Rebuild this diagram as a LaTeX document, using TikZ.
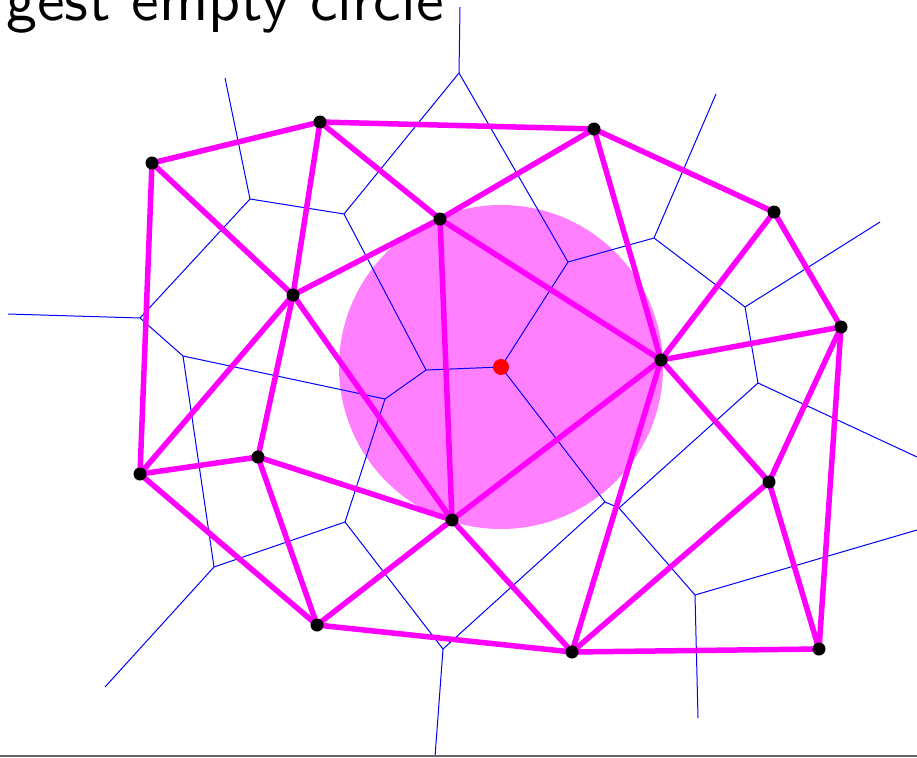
\documentclass[tikz,border=0pt]{standalone}
\usepackage{fontspec}
\usetikzlibrary{backgrounds}
\newfontfamily\titlefont{lmsans10-regular}[Extension=.otf]
\definecolor{delaunay}{RGB}{255,0,255}
\definecolor{voronoi}{RGB}{0,0,255}
\definecolor{centre}{RGB}{255,0,0}
\newlength{\SiteSize}
\newlength{\CenterSize}
\setlength{\SiteSize}{13pt}
\setlength{\CenterSize}{16pt}
\tikzset{
  site/.style={fill=black, circle, minimum size=\SiteSize, inner sep=0pt},
  center site/.style={fill=centre, circle, minimum size=\CenterSize, inner sep=0pt},
  voronoi edge/.style={draw=voronoi, line width=1pt},
  delaunay edge/.style={draw=delaunay, line width=5.5pt, line cap=round},
  empty disc/.style={fill=delaunay, fill opacity=0.5},
  slide title/.style={font=\titlefont\fontsize{62}{66}\selectfont, inner sep=0pt},
}

\begin{document}
\begin{tikzpicture}[x=1pt, y=-1pt]
  \useasboundingbox (0,0) rectangle (917,757);
  \clip (0,0) rectangle (917,757);

  \node[slide title, anchor=base west] (title) at (6,21) {gest empty circle};

  % sites
  \node[site] (p1)  at (152,163) {};
  \node[site] (p2)  at (320,122) {};
  \node[site] (p3)  at (594,129) {};
  \node[site] (p4)  at (440,219) {};
  \node[site] (p5)  at (293,295) {};
  \node[site] (p6)  at (774,212) {};
  \node[site] (p7)  at (841,327) {};
  \node[site] (p8)  at (661,360) {};
  \node[site] (p9)  at (140,474) {};
  \node[site] (p10) at (258,457) {};
  \node[site] (p11) at (452,520) {};
  \node[site] (p12) at (317,625) {};
  \node[site] (p13) at (572,652) {};
  \node[site] (p14) at (769,482) {};
  \node[site] (p15) at (819,649) {};
  \node[center site] (r) at (501,367) {};

  % voronoi vertices and free ends
  \coordinate (va) at (459,73);
  \coordinate (vb) at (250,199);
  \coordinate (vc) at (344,214);
  \coordinate (vd) at (426,370);
  \coordinate (ve) at (140,318);
  \coordinate (vf) at (183,356);
  \coordinate (vg) at (385,399);
  \coordinate (vh) at (345,522);
  \coordinate (vi) at (214,567);
  \coordinate (vj) at (443,649);
  \coordinate (vk) at (605,502);
  \coordinate (vq) at (619,508);
  \coordinate (vm) at (695,595);
  \coordinate (vl) at (758,383);
  \coordinate (vn) at (568,262);
  \coordinate (vo) at (654,238);
  \coordinate (vp) at (745,307);
  \coordinate (ua) at (460,7);
  \coordinate (ub) at (225,78);
  \coordinate (le) at (8,314);
  \coordinate (di) at (105,687);
  \coordinate (dj) at (435,757);
  \coordinate (dm) at (698,718);
  \coordinate (rm) at (917,530);
  \coordinate (rl) at (917,457);
  \coordinate (up) at (880,222);
  \coordinate (uo) at (716,94);

  \begin{scope}[on background layer]
    \fill[empty disc] (r.center) circle[radius=162];
    \foreach \a/\b in {va/ua, vb/ub, vb/vc, vc/va, vb/ve, vc/vd, vd/r, vd/vg,
                       ve/le, ve/vf, vf/vg, vf/vi, vg/vh, vi/vh, vi/di, vh/vj,
                       vj/dj, vj/vk, va/vn, vn/r, vn/vo, vo/uo, vo/vp, vp/up,
                       vp/vl, vl/rl, vl/vq, r/vk, vk/vq, vq/vm, vm/dm, vm/rm}
      \draw[voronoi edge] (\a.center) -- (\b.center);
    \foreach \a/\b in {p1/p2, p2/p3, p1/p5, p1/p9, p2/p5, p2/p4, p3/p4, p3/p6,
                       p3/p8, p4/p5, p4/p8, p4/p11, p5/p9, p5/p10, p5/p11,
                       p6/p8, p6/p7, p7/p8, p7/p14, p7/p15, p8/p11, p8/p13,
                       p8/p14, p9/p10, p9/p12, p10/p11, p10/p12, p11/p12,
                       p11/p13, p12/p13, p13/p14, p13/p15, p14/p15}
      \draw[delaunay edge] (\a.center) -- (\b.center);
  \end{scope}

  \draw[black!60, line width=2pt] (0,755.5) -- (917,755.5);
\end{tikzpicture}
\end{document}
